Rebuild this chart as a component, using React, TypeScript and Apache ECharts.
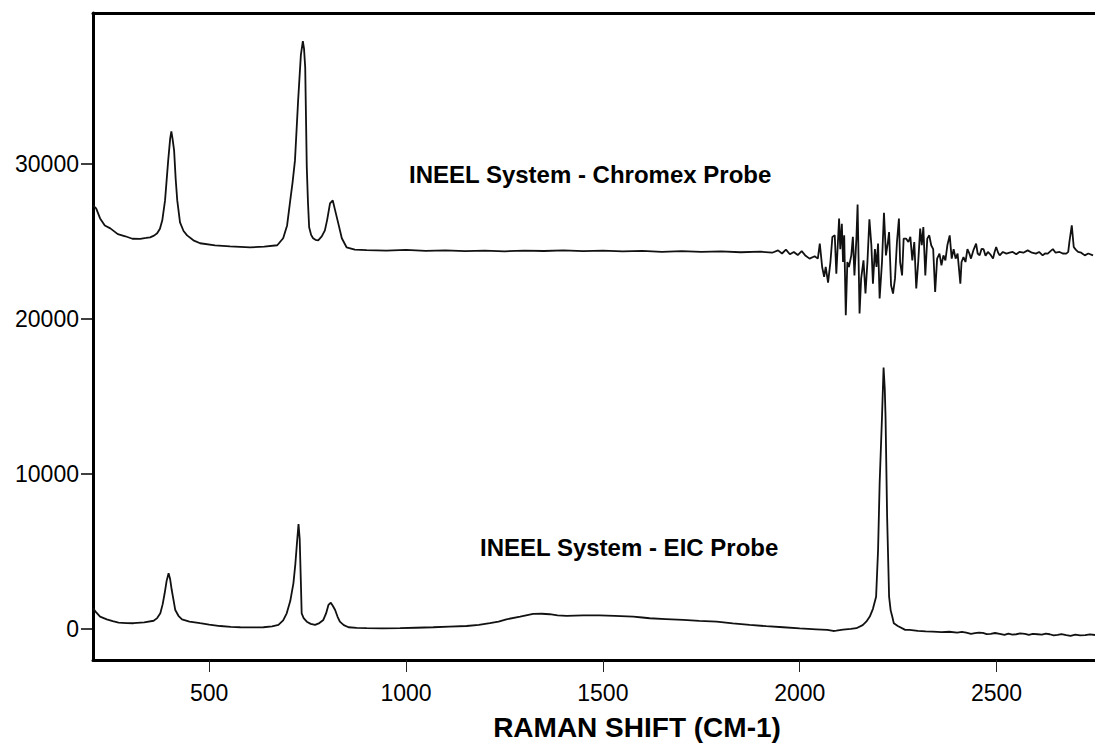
import React, { useEffect, useRef } from "react";
import * as echarts from "echarts";

// Raman shift (cm-1) vs intensity
const chromexSpectrum: [number, number][] = [
  [205, 27300], [213, 27110], [223, 26460], [235, 26000], [249, 25820], [268, 25450], [287, 25310],
  [305, 25150], [325, 25145], [340, 25200], [350, 25240], [360, 25350], [368, 25500], [375, 25800],
  [381, 26340], [388, 27620], [396, 30200], [401, 31600], [404, 32070], [407, 31600], [411, 30840],
  [415, 29000], [419, 27620], [426, 26200], [435, 25650], [444, 25370], [460, 25050], [477, 24860],
  [515, 24720], [553, 24660], [604, 24600], [640, 24640], [673, 24730], [688, 25180], [698, 26010],
  [706, 27620], [712, 28800], [718, 30200], [726, 34060], [733, 37000], [738, 37880], [741, 37400],
  [744, 36190], [748, 29750], [751, 27500], [754, 25890], [759, 25400], [764, 25180], [770, 25080],
  [777, 25050], [786, 25300], [794, 25690], [800, 26400], [807, 27430], [814, 27620], [820, 26980],
  [828, 26140], [837, 25180], [849, 24600], [870, 24450], [900, 24420], [950, 24380], [1000, 24430],
  [1050, 24370], [1100, 24400], [1150, 24350], [1200, 24390], [1250, 24340], [1300, 24380],
  [1350, 24360], [1400, 24400], [1450, 24350], [1500, 24380], [1550, 24330], [1600, 24370],
  [1650, 24310], [1700, 24350], [1750, 24300], [1800, 24340], [1850, 24280], [1900, 24320],
  [1930, 24250], [1945, 24400], [1955, 24200], [1965, 24450], [1975, 24150], [1985, 24300],
  [1995, 24100], [2005, 24350], [2015, 24050], [2025, 23870], [2038, 24020], [2046, 23870],
  [2051, 24840], [2057, 23330], [2062, 22690], [2066, 23330], [2072, 22320], [2078, 23650],
  [2083, 25270], [2089, 25370], [2093, 22900], [2100, 26450], [2103, 24480], [2107, 26120],
  [2110, 23650], [2113, 25370], [2117, 20220], [2121, 23650], [2125, 23330], [2131, 24080],
  [2135, 25270], [2139, 22790], [2144, 25160], [2147, 27350], [2152, 20330], [2156, 22580],
  [2162, 23760], [2167, 21620], [2172, 23650], [2177, 26400], [2182, 24730], [2186, 22260],
  [2191, 24480], [2195, 23330], [2199, 24840], [2203, 21300], [2209, 23650], [2214, 26830],
  [2219, 24080], [2224, 24940], [2227, 25580], [2232, 22150], [2237, 21620], [2242, 22580],
  [2247, 24940], [2252, 26450], [2255, 23650], [2260, 22790], [2264, 25160], [2270, 25160],
  [2276, 24940], [2281, 25270], [2286, 23760], [2291, 24940], [2296, 21940], [2301, 23650],
  [2306, 25800], [2310, 24730], [2314, 25900], [2319, 22790], [2324, 25160], [2329, 25370],
  [2334, 24730], [2339, 24480], [2344, 21720], [2349, 23870], [2355, 24190], [2360, 23440],
  [2365, 24080], [2370, 23760], [2375, 24730], [2381, 25370], [2386, 23870], [2391, 24480],
  [2396, 23870], [2401, 24190], [2408, 22260], [2411, 23650], [2416, 23970], [2421, 23650],
  [2426, 24480], [2431, 24190], [2435, 23870], [2441, 24400], [2448, 24840], [2452, 24200],
  [2457, 24080], [2462, 24500], [2467, 24480], [2472, 24050], [2478, 24300], [2484, 24150],
  [2491, 23870], [2495, 24300], [2499, 24620], [2504, 24250], [2508, 24080], [2516, 24300],
  [2525, 24190], [2533, 24250], [2541, 24300], [2550, 24150], [2558, 24300], [2568, 24250],
  [2579, 24400], [2590, 24250], [2600, 24190], [2608, 24300], [2617, 24080], [2623, 24200],
  [2630, 24190], [2637, 24350], [2643, 24480], [2650, 24250], [2660, 24300], [2668, 24200],
  [2677, 24190], [2682, 24300], [2685, 24950], [2691, 26010], [2696, 24620], [2701, 24450],
  [2707, 24300], [2715, 24250], [2724, 24080], [2733, 24200], [2745, 24080],
];

const eicSpectrum: [number, number][] = [
  [205, 1330], [212, 1100], [223, 790], [240, 620], [255, 500], [270, 410], [290, 380], [308, 370],
  [335, 430], [359, 530], [368, 700], [376, 1010], [382, 1600], [387, 2300], [392, 3100], [397, 3590],
  [401, 3200], [405, 2510], [410, 1800], [414, 1220], [422, 850], [431, 620], [450, 480], [477, 370],
  [500, 280], [528, 190], [555, 140], [579, 110], [610, 100], [638, 110], [660, 170], [676, 260],
  [688, 550], [697, 1010], [706, 1800], [714, 2940], [719, 4200], [723, 5520], [727, 6760],
  [730, 5800], [733, 3000], [735, 1010], [740, 700], [748, 470], [758, 330], [769, 260], [780, 380],
  [790, 580], [797, 1000], [803, 1550], [809, 1690], [814, 1500], [820, 1220], [826, 800], [832, 470],
  [842, 250], [854, 110], [875, 70], [900, 50], [940, 40], [985, 50], [1025, 80], [1069, 110],
  [1110, 150], [1154, 190], [1185, 260], [1213, 370], [1235, 480], [1255, 620], [1290, 800],
  [1323, 970], [1345, 980], [1365, 950], [1385, 880], [1408, 840], [1450, 870], [1492, 880],
  [1530, 840], [1577, 790], [1600, 740], [1619, 690], [1660, 640], [1704, 580], [1745, 520],
  [1789, 470], [1830, 360], [1873, 260], [1915, 180], [1958, 110], [2000, 40], [2042, -20],
  [2070, -60], [2085, -130], [2093, -110], [2110, -40], [2130, 0], [2144, 50], [2160, 250], [2169, 470],
  [2178, 800], [2186, 1300], [2194, 2080], [2199, 5090], [2203, 9380], [2209, 13670], [2213, 16850],
  [2216, 15500], [2218, 13670], [2222, 7230], [2227, 2080], [2231, 1200], [2235, 800], [2239, 370],
  [2249, 190], [2268, -60], [2279, -60], [2300, -120], [2320, -150], [2338, -170], [2360, -200],
  [2380, -180], [2400, -230], [2412, -190], [2423, -240], [2435, -310], [2445, -270], [2455, -230],
  [2465, -250], [2475, -330], [2485, -310], [2496, -260], [2508, -320], [2520, -380], [2530, -300],
  [2540, -360], [2550, -340], [2560, -290], [2572, -310], [2582, -380], [2592, -320], [2604, -340],
  [2615, -360], [2625, -300], [2635, -340], [2645, -410], [2655, -380], [2665, -330], [2677, -390],
  [2688, -440], [2700, -360], [2712, -410], [2725, -400], [2737, -350], [2750, -390],
];

const xTicks = [500, 1000, 1500, 2000, 2500];
const yTicks = [0, 10000, 20000, 30000];
const xRange = [205, 2750];
const yRange = [-2000, 39700];
const axisTitle = "RAMAN SHIFT (CM-1)";
const chromexLabel = "INEEL System - Chromex Probe";
const eicLabel = "INEEL System - EIC Probe";

const FONT = "'Liberation Sans', Arial, Helvetica, sans-serif";

export default function App() {
  const ref = useRef<HTMLDivElement>(null);

  useEffect(() => {
    if (!ref.current) return;
    const chart = echarts.init(ref.current, undefined, { renderer: "svg" });
    const lineStyle = { color: "#111", width: 1.8 };
    const plain = (v: number) => String(v);
    chart.setOption({
      animation: false,
      backgroundColor: "#fff",
      grid: { left: 93, right: 0, top: 13, bottom: 84, containLabel: false },
      xAxis: [
        {
          type: "value",
          min: xRange[0],
          max: xRange[1],
          position: "bottom",
          splitLine: { show: false },
          axisLine: { show: true, onZero: false, lineStyle: { color: "#000", width: 3 } },
          axisTick: { show: true, customValues: xTicks, length: 12, lineStyle: { color: "#222", width: 1 } },
          axisLabel: {
            customValues: xTicks,
            formatter: plain,
            margin: 21,
            color: "#000",
            fontSize: 23,
            fontFamily: FONT,
          },
        },
        {
          type: "value",
          min: xRange[0],
          max: xRange[1],
          position: "top",
          splitLine: { show: false },
          axisLine: { show: true, onZero: false, lineStyle: { color: "#000", width: 3 } },
          axisTick: { show: false },
          axisLabel: { show: false },
        },
      ],
      yAxis: {
        type: "value",
        min: yRange[0],
        max: yRange[1],
        splitLine: { show: false },
        axisLine: { show: true, onZero: false, lineStyle: { color: "#000", width: 3 } },
        axisTick: { show: true, customValues: yTicks, length: 12, lineStyle: { color: "#000", width: 1.5 } },
        axisLabel: {
          customValues: yTicks,
          formatter: plain,
          margin: 14,
          color: "#000",
          fontSize: 23,
          fontFamily: FONT,
        },
      },
      series: [
        {
          name: chromexLabel,
          type: "line",
          xAxisIndex: 0,
          data: chromexSpectrum,
          showSymbol: false,
          lineStyle,
          clip: true,
        },
        {
          name: eicLabel,
          type: "line",
          xAxisIndex: 0,
          data: eicSpectrum,
          showSymbol: false,
          lineStyle,
          clip: true,
        },
      ],
      graphic: [
        {
          type: "text",
          x: 409,
          y: 174,
          style: {
            text: chromexLabel,
            fill: "#000",
            font: `bold 24px ${FONT}`,
            textAlign: "left",
            textVerticalAlign: "middle",
            verticalAlign: "middle",
          },
        },
        {
          type: "text",
          x: 480,
          y: 547,
          style: {
            text: eicLabel,
            fill: "#000",
            font: `bold 24px ${FONT}`,
            textAlign: "left",
            textVerticalAlign: "middle",
            verticalAlign: "middle",
          },
        },
        {
          type: "text",
          x: 637,
          y: 727,
          style: {
            text: axisTitle,
            fill: "#000",
            font: `bold 28px ${FONT}`,
            textAlign: "center",
            textVerticalAlign: "middle",
            verticalAlign: "middle",
          },
        },
      ],
    });
    return () => chart.dispose();
  }, []);

  return (
    <div
      ref={ref}
      style={{ position: "absolute", left: 0, top: 0, width: 1095, height: 744, background: "#fff" }}
    />
  );
}
